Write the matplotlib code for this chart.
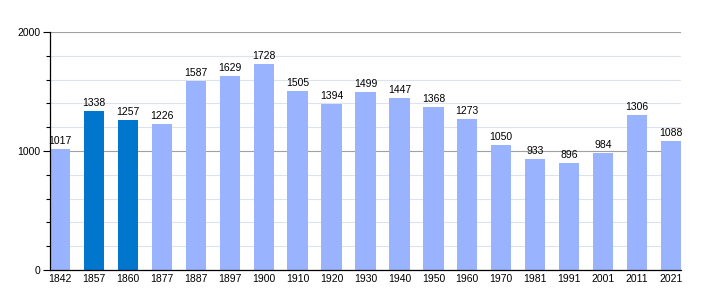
import matplotlib
matplotlib.use("Agg")
import matplotlib.pyplot as plt
from matplotlib.ticker import MultipleLocator

years = ["1842", "1857", "1860", "1877", "1887", "1897", "1900", "1910", "1920", "1930",
         "1940", "1950", "1960", "1970", "1981", "1991", "2001", "2011", "2021"]
population = [1017, 1338, 1257, 1226, 1587, 1629, 1728, 1505, 1394, 1499,
              1447, 1368, 1273, 1050, 933, 896, 984, 1306, 1088]
highlight = ["1857", "1860"]

plt.rcParams['font.family'] = ['Liberation Sans', 'DejaVu Sans']
fig = plt.figure(figsize=(7.1, 3.0), dpi=100)
ax = fig.add_axes([50/710, 30/300, 631/710, 238/300])

light = '#99b3ff'
dark = '#0077cc'
colors = [dark if y in highlight else light for y in years]
x = list(range(len(years)))
ax.bar(x, population, width=0.6, color=colors, zorder=2)
for xi, v in zip(x, population):
    ax.text(xi, v + 25, str(v), ha='center', va='bottom', fontsize=7.5, zorder=3)

ax.set_xlim(-0.3, len(years) - 0.7)
ax.set_ylim(0, 2000)
ax.set_xticks(x)
ax.set_xticklabels(years, fontsize=7.5)
ax.set_yticks([0, 1000, 2000])
ax.set_yticklabels(["0", "1000", "2000"], fontsize=7.5)
ax.yaxis.set_minor_locator(MultipleLocator(200))
ax.grid(axis='y', which='major', color='#a0a0a0', linewidth=0.8, zorder=1)
ax.grid(axis='y', which='minor', color='#dde3ee', linewidth=0.8, zorder=1)
ax.tick_params(axis='x', length=0, pad=3)
ax.tick_params(axis='y', which='major', length=5, width=0.8, pad=2)
ax.tick_params(axis='y', which='minor', length=3, width=0.8)
for s in ['top', 'right']:
    ax.spines[s].set_visible(False)
ax.spines['left'].set_linewidth(0.9)
ax.spines['bottom'].set_linewidth(0.9)
ax.set_axisbelow(True)
fig.savefig("out.png", dpi=100)
